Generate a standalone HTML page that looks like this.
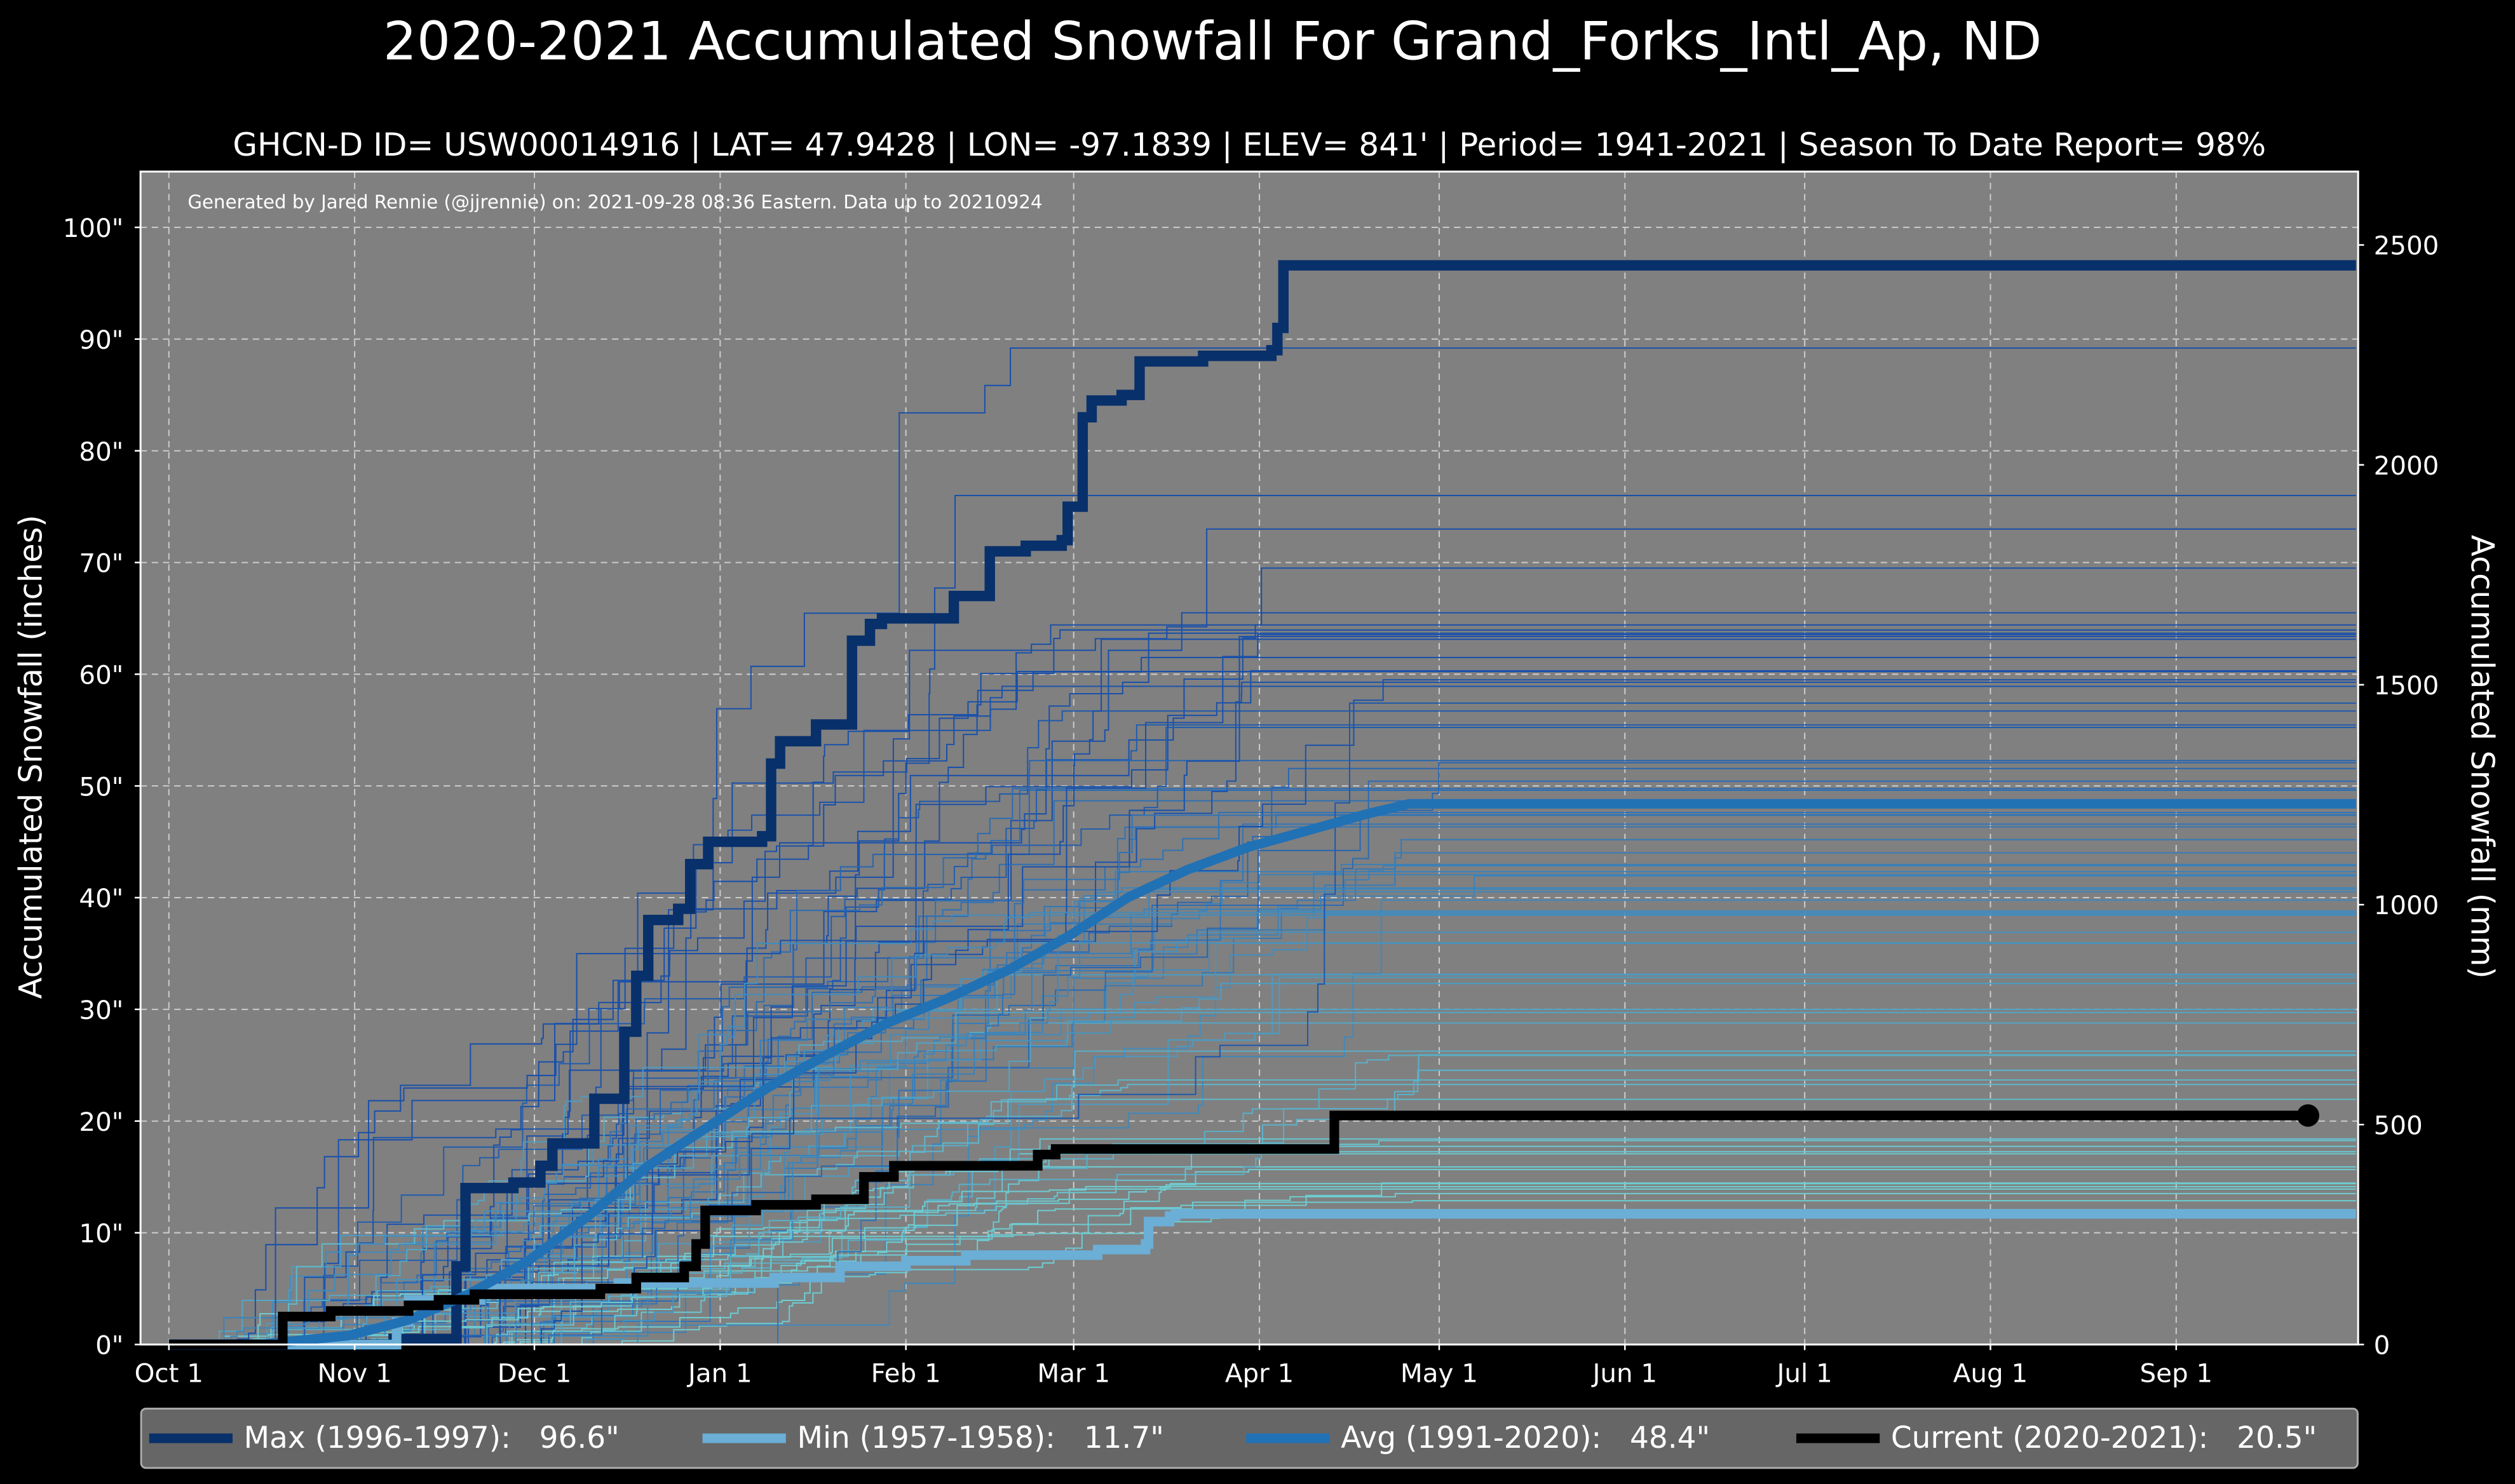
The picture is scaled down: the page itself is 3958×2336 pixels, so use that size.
<!DOCTYPE html>
<html><head><meta charset="utf-8"><style>html,body{margin:0;padding:0;background:#000}svg{display:block}</style></head>
<body>
<svg id="s" xmlns="http://www.w3.org/2000/svg" width="3958" height="2336" viewBox="0 0 1568.1 925.5" font-family="'DejaVu Sans','Liberation Sans',sans-serif">
<rect width="1568.1" height="925.5" fill="#000"/>
<text x="756" y="37" font-size="33" fill="#fff" text-anchor="middle">2020-2021 Accumulated Snowfall For Grand_Forks_Intl_Ap, ND</text>
<text x="779" y="97" font-size="19.8" fill="#fff" text-anchor="middle">GHCN-D ID= USW00014916 | LAT= 47.9428 | LON= -97.1839 | ELEV= 841' | Period= 1941-2021 | Season To Date Report= 98%</text>
<rect x="87.6" y="107" width="1382.7" height="731.5" fill="#808080"/>
<g id="grid"></g>
<g id="spag"></g>
<g id="main"></g>
<rect x="87.6" y="107" width="1382.7" height="731.5" fill="none" stroke="#fff" stroke-width="1.2"/>
<g id="ticks" fill="#fff" font-size="16"></g>
<text x="117" y="130" font-size="11.6" fill="#fff">Generated by Jared Rennie (@jjrennie) on: 2021-09-28 08:36 Eastern. Data up to 20210924</text>
<text transform="translate(26,472) rotate(-90)" font-size="19.6" fill="#fff" text-anchor="middle">Accumulated Snowfall (inches)</text>
<text transform="translate(1541,472) rotate(90)" font-size="19.6" fill="#fff" text-anchor="middle">Accumulated Snowfall (mm)</text>
<rect x="88" y="878.5" width="1382" height="37" rx="3" fill="#666" stroke="#aaa" stroke-width="1.2"/>
<g font-size="18.6" fill="#fff">
<line x1="93" y1="897" x2="145" y2="897" stroke="#08306b" stroke-width="6"/><text x="152" y="903">Max (1996-1997):&#160;&#160;&#160;96.6"</text>
<line x1="438" y1="897" x2="490" y2="897" stroke="#6baed6" stroke-width="6"/><text x="497" y="903">Min (1957-1958):&#160;&#160;&#160;11.7"</text>
<line x1="777" y1="897" x2="829" y2="897" stroke="#2171b5" stroke-width="6"/><text x="836" y="903">Avg (1991-2020):&#160;&#160;&#160;48.4"</text>
<line x1="1120" y1="897" x2="1172" y2="897" stroke="#000" stroke-width="6"/><text x="1179" y="903">Current (2020-2021):&#160;&#160;&#160;20.5"</text>
</g>
</svg>
<script>
const NS="http://www.w3.org/2000/svg";
const X=d=>105.3+3.736*d, Y=v=>838.5-6.967*v;
function el(p,t,a){const e=document.createElementNS(NS,t);for(const k in a)e.setAttribute(k,a[k]);if(a.text!=null)e.textContent=a.text;document.getElementById(p).appendChild(e);return e;}
const months=[["Oct 1",0],["Nov 1",31],["Dec 1",61],["Jan 1",92],["Feb 1",123],["Mar 1",151],["Apr 1",182],["May 1",212],["Jun 1",243],["Jul 1",273],["Aug 1",304],["Sep 1",335]];
months.forEach(([l,d])=>{el("grid","line",{x1:X(d),x2:X(d),y1:107,y2:838.5,stroke:"#ccc","stroke-width":0.8,"stroke-dasharray":"4,3"});
el("ticks","line",{x1:X(d),x2:X(d),y1:838.5,y2:842,stroke:"#fff"});el("ticks","text",{x:X(d),y:862,"text-anchor":"middle",text:l});});
for(let v=0;v<=100;v+=10){el("grid","line",{x1:87.6,x2:1470.3,y1:Y(v),y2:Y(v),stroke:"#ccc","stroke-width":0.8,"stroke-dasharray":"4,3"});
el("ticks","line",{x1:84,x2:87.6,y1:Y(v),y2:Y(v),stroke:"#fff"});el("ticks","text",{x:77,y:Y(v)+6,"text-anchor":"end",text:v+'"'});}
for(let m=0;m<=2500;m+=500){const y=Y(m/25.4);el("ticks","line",{x1:1470.3,x2:1474,y1:y,y2:y,stroke:"#fff"});el("ticks","text",{x:1480,y:y+6,text:m});}
let seed=11;const r=()=>{seed=(seed*16807)%2147483647;return seed/2147483647;};
function stepPath(pts){let d="M"+X(pts[0][0])+","+Y(pts[0][1]);let pv=pts[0][1];for(let i=1;i<pts.length;i++){d+="L"+X(pts[i][0])+","+Y(pv)+"L"+X(pts[i][0])+","+Y(pts[i][1]);pv=pts[i][1];}d+="L"+X(365)+","+Y(pv);return d;}
for(let i=0;i<78;i++){let tot=12+r()*54;if(i==0)tot=89.2;if(i==1)tot=76;if(i==2)tot=73;if(i==3)tot=69.5;if(i==4)tot=65.5;
const start=5+r()*60;const end=130+r()*90;let n=12+Math.floor(r()*18);let xs=[];for(let k=0;k<n;k++)xs.push(start+r()*(end-start));xs.sort((a,b)=>a-b);
let ws=[];let s=0;for(let k=0;k<n;k++){let w=0.1+Math.pow(r(),2);ws.push(w);s+=w;}let acc=0;let pts=[[0,0],[start,0]];for(let k=0;k<n;k++){acc+=ws[k]/s*tot;pts.push([xs[k],acc]);}
const t=Math.min(1,Math.max(0,(tot-15)/45));const c=`rgb(${Math.round(110-85*t)},${Math.round(205-125*t)},${Math.round(210-40*t)})`;
el("spag","path",{d:stepPath(pts),fill:"none",stroke:c,"stroke-width":0.8});}
const maxP=[[0,0],[37.5,0.5],[48,7],[49.5,14],[57.5,14.5],[62,16],[64,18],[71,22],[76,28],[78,33],[80,38],[85,39],[87,43],[90,45],[99,45.5],[100.5,52],[102,54],[108,55.5],[114,63],[117,64.5],[119,65],[131,67],[137,71],[143,71.5],[149,72],[150,75],[152.5,83],[154,84.5],[159,85],[162,88],[172.6,88.5],[184,89],[185,91],[186,96.6]];
const minP=[[0,0],[36,0],[38,2],[40,4],[52,4.5],[53,5],[74,5],[75,5.5],[99,5.5],[101,6],[111,6],[112,7],[122,7],[123,7.5],[132,7.5],[133,8],[154,8],[155,8.5],[162,8.5],[163,9],[163.5,11],[167,11.5],[168,11.7]];
const curP=[[0,0],[18,0],[19,2.5],[27,3],[40,3.5],[45,4],[51,4.5],[63,4.5],[72,5],[78,6],[86,7],[88,9],[89.5,12],[98,12.5],[108,13],[116,15],[121,16],[145,17],[148,17.5],[193,17.5],[194.5,20.5]];
const avgPts=[[15,0],[30,0.8],[40,2.2],[50,4.5],[60,7.5],[70,11.5],[80,16],[90,19.5],[100,23],[110,26],[120,28.8],[130,31],[140,33.5],[150,36.5],[160,40],[170,42.5],[180,44.5],[190,46],[200,47.5],[207,48.4],[365,48.4]];
el("main","path",{d:stepPath(maxP),fill:"none",stroke:"#08306b","stroke-width":6.5});
el("main","path",{d:stepPath(minP),fill:"none",stroke:"#6baed6","stroke-width":6});
el("main","path",{d:"M"+avgPts.map(p=>X(p[0])+","+Y(p[1])).join("L"),fill:"none",stroke:"#2171b5","stroke-width":6});
let cd=stepPath(curP).replace(/L[^L]*$/,"")+"L"+X(357)+","+Y(20.5);
el("main","path",{d:cd,fill:"none",stroke:"#000","stroke-width":6});
el("main","circle",{cx:X(357),cy:Y(20.5),r:7,fill:"#000"});
</script>
</body></html>
